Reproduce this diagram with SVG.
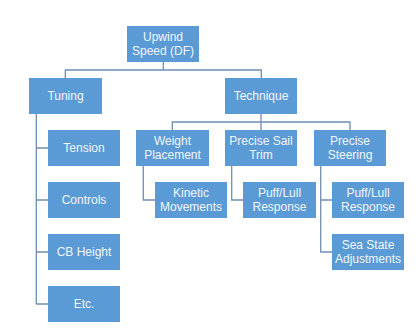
<svg xmlns="http://www.w3.org/2000/svg" width="420" height="335" viewBox="0 0 420 335">
<style>
.box{fill:#5B9BD5}
.t{font-family:"Liberation Sans",Arial,sans-serif;font-size:12px;fill:#F2F6FB;text-anchor:middle;dominant-baseline:central}
.c{fill:none;stroke:#6F8FB0;stroke-width:1.3}
</style>
<rect width="420" height="335" fill="#ffffff"/>
<g id="connectors">
<path class="c" d="M163.3,62 V70 M65.3,78 V70 H261.3 V78"/>
<path class="c" d="M36.3,114 V304.3 M36.3,148 H48 M36.3,200 H48 M36.3,252 H48 M36.3,304 H48"/>
<path class="c" d="M261,114 V122 M172.3,130 V122 H350 V130 M261,122 V130"/>
<path class="c" d="M143.3,166 V200 H155"/>
<path class="c" d="M231.7,166 V200 H243"/>
<path class="c" d="M320.7,166 V252 H332 M320.7,200 H332"/>
</g>
<g id="root"><rect class="box" x="127" y="26" width="72" height="36"/><text class="t" x="163" y="37">Upwind</text><text class="t" x="163" y="51">Speed (DF)</text></g>
<g id="tuning"><rect class="box" x="29" y="78" width="73" height="36"/><text class="t" x="65.5" y="96">Tuning</text></g>
<g id="technique"><rect class="box" x="225" y="78" width="72" height="36"/><text class="t" x="261" y="96">Technique</text></g>
<g id="tension"><rect class="box" x="48" y="130" width="72" height="36"/><text class="t" x="84" y="148">Tension</text></g>
<g id="controls"><rect class="box" x="48" y="182" width="72" height="36"/><text class="t" x="84" y="200">Controls</text></g>
<g id="cbheight"><rect class="box" x="48" y="234" width="72" height="36"/><text class="t" x="84" y="252">CB Height</text></g>
<g id="etc"><rect class="box" x="48" y="286" width="72" height="36"/><text class="t" x="84" y="304">Etc.</text></g>
<g id="weight"><rect class="box" x="136" y="130" width="73" height="36"/><text class="t" x="172.5" y="141">Weight</text><text class="t" x="172.5" y="155">Placement</text></g>
<g id="sailtrim"><rect class="box" x="225" y="130" width="72" height="36"/><text class="t" x="261" y="141">Precise Sail</text><text class="t" x="261" y="155">Trim</text></g>
<g id="steering"><rect class="box" x="314" y="130" width="72" height="36"/><text class="t" x="350" y="141">Precise</text><text class="t" x="350" y="155">Steering</text></g>
<g id="kinetic"><rect class="box" x="155" y="182" width="72" height="36"/><text class="t" x="191" y="193">Kinetic</text><text class="t" x="191" y="207">Movements</text></g>
<g id="puff1"><rect class="box" x="243" y="182" width="73" height="36"/><text class="t" x="279.5" y="193">Puff/Lull</text><text class="t" x="279.5" y="207">Response</text></g>
<g id="puff2"><rect class="box" x="332" y="182" width="72" height="36"/><text class="t" x="368" y="193">Puff/Lull</text><text class="t" x="368" y="207">Response</text></g>
<g id="seastate"><rect class="box" x="332" y="234" width="72" height="36"/><text class="t" x="368" y="245">Sea State</text><text class="t" x="368" y="259">Adjustments</text></g>
</svg>
